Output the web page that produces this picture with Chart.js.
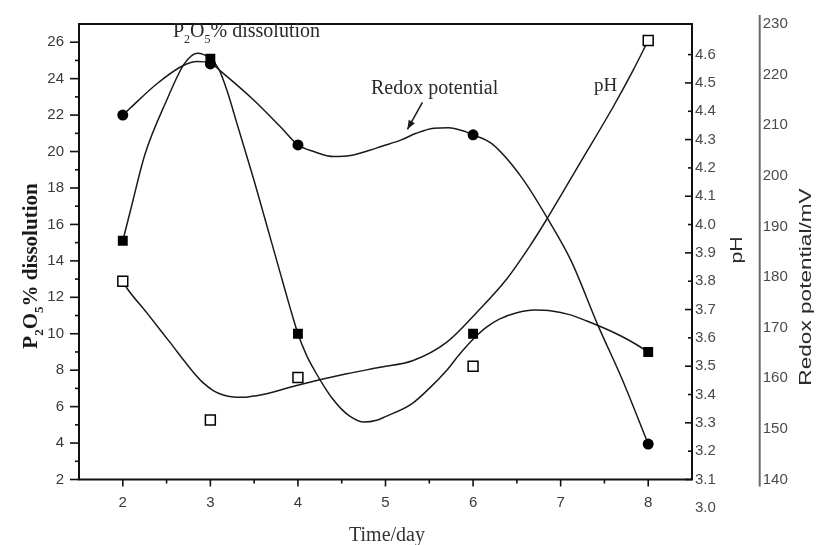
<!DOCTYPE html>
<html>
<head>
<meta charset="utf-8">
<script src="https://cdn.jsdelivr.net/npm/chart.js@4.4.1/dist/chart.umd.min.js"></script>
<style>
  html, body { margin: 0; padding: 0; background: #fff; }
  #c { display: block; }
</style>
</head>
<body>
<canvas id="c" width="818" height="545"></canvas>
<script>
// ---- data ----
const days = [2, 3, 4, 6, 8];
const p2o5Values = [15.1, 25.1, 10.0, 10.0, 9.0];      // P2O5 % dissolution (left axis)
const pHValues = [3.80, 3.31, 3.46, 3.50, 4.65];        // pH (first right axis)
const redoxValues = [212.0, 222.1, 206.1, 208.1, 147.0]; // redox potential, mV

// fitted curves as drawn in the reference
const p2o5FitDays = [2, 2.1, 2.25, 2.5, 2.7, 2.85, 3.0, 3.1, 3.2, 3.3, 3.4, 3.5, 3.6, 3.7, 3.8, 3.9, 4.0, 4.1, 4.2, 4.3, 4.4, 4.5, 4.6, 4.75, 4.9, 5.0, 5.3, 5.5, 5.7, 5.85, 6.0, 6.15, 6.3, 6.5, 6.7, 6.9, 7.1, 7.3, 7.5, 7.7, 7.85, 8.0];
const p2o5FitValues = [15.1, 17.0, 19.8, 22.8, 24.8, 25.4, 25.1, 24.5, 23.2, 21.6, 20.0, 18.4, 16.7, 15.0, 13.3, 11.6, 10.0, 8.8, 7.9, 7.1, 6.4, 5.85, 5.45, 5.15, 5.25, 5.45, 6.15, 7.0, 8.0, 8.9, 9.7, 10.35, 10.8, 11.15, 11.3, 11.25, 11.05, 10.7, 10.3, 9.85, 9.45, 9.0];

const redoxFitDays = [2, 2.08, 2.39, 2.69, 2.85, 3.0, 3.11, 3.5, 3.8, 4.0, 4.18, 4.41, 4.6, 4.83, 4.95, 5.18, 5.35, 5.55, 5.72, 5.9, 6.0, 6.21, 6.55, 6.86, 7.12, 7.43, 7.7, 8.0];
const redoxFitValues = [212.0, 213.3, 218.2, 221.8, 222.6, 222.3, 220.8, 214.9, 209.7, 206.1, 204.8, 203.8, 204.0, 205.1, 205.8, 207.1, 208.4, 209.4, 209.5, 208.8, 208.1, 206.4, 199.8, 191.3, 183.2, 170.3, 159.9, 147.0];

const pHFitDays = [2, 2.044, 2.273, 2.539, 2.805, 2.919, 3.033, 3.147, 3.261, 3.375, 3.528, 3.642, 3.985, 4.556, 4.936, 5.316, 5.697, 6.039, 6.382, 6.648, 6.838, 7.219, 7.599, 7.827, 8.0];
const pHFitValues = [3.800, 3.777, 3.689, 3.584, 3.479, 3.441, 3.414, 3.398, 3.391, 3.390, 3.396, 3.403, 3.432, 3.473, 3.496, 3.520, 3.584, 3.689, 3.807, 3.924, 4.017, 4.216, 4.415, 4.544, 4.650];

// tick labels
const xTicks = [2, 3, 4, 5, 6, 7, 8];
const xMinorTicks = [2.5, 3.5, 4.5, 5.5, 6.5, 7.5];
const leftTicks = [2, 4, 6, 8, 10, 12, 14, 16, 18, 20, 22, 24, 26];
const leftMinorTicks = [3, 5, 7, 9, 11, 13, 15, 17, 19, 21, 23, 25];
const pHTicks = [3.0, 3.1, 3.2, 3.3, 3.4, 3.5, 3.6, 3.7, 3.8, 3.9, 4.0, 4.1, 4.2, 4.3, 4.4, 4.5, 4.6];
const redoxTicks = [140, 150, 160, 170, 180, 190, 200, 210, 220, 230];

const pts = (xs, ys) => xs.map((x, i) => ({ x: x, y: ys[i] }));

const SANS = 'Liberation Sans, Arial, sans-serif';
const SERIF = 'Liberation Serif, Times New Roman, serif';
const tickFont = { family: SANS, size: 15 };
const tickColor = '#3a3a3a';
const curveColor = '#1a1a1a';

const overlay = {
  id: 'overlay',
  afterDraw(chart) {
    const { ctx, chartArea: a, scales } = chart;
    const sx = scales.x, sy = scales.y, sp = scales.yPH, sr = scales.yRedox;
    const line = (x1, y1, x2, y2) => { ctx.beginPath(); ctx.moveTo(x1, y1); ctx.lineTo(x2, y2); ctx.stroke(); };
    ctx.save();
    // frame
    ctx.strokeStyle = '#111';
    ctx.lineWidth = 2;
    ctx.strokeRect(a.left, a.top, a.right - a.left, a.bottom - a.top);
    // tick marks
    ctx.lineWidth = 1.6;
    leftTicks.forEach(v => { const y = sy.getPixelForValue(v); line(a.left - 9, y, a.left, y); });
    leftMinorTicks.forEach(v => { const y = sy.getPixelForValue(v); line(a.left - 4, y, a.left, y); });
    xTicks.forEach(v => { const x = sx.getPixelForValue(v); line(x, a.bottom, x, a.bottom + 7); });
    xMinorTicks.forEach(v => { const x = sx.getPixelForValue(v); line(x, a.bottom, x, a.bottom + 4); });
    pHTicks.forEach(v => {
      if (v < sp.min || v > sp.max) return;
      const y = sp.getPixelForValue(v);
      const len = (Math.round(v * 10) % 2 === 1) ? 7 : 4;
      line(a.right - len, y, a.right, y);
    });
    // redox axis line
    ctx.strokeStyle = '#6a6a6a';
    ctx.lineWidth = 2;
    line(sr.left, a.top - 9, sr.left, a.bottom + 7);

    // left axis title with subscripts
    const parts = [
      { t: 'P', sub: false }, { t: '2', sub: true }, { t: 'O', sub: false },
      { t: '5', sub: true }, { t: '% dissolution', sub: false }
    ];
    const drawParts = (cx, cy, rot, size, weight, color) => {
      ctx.save();
      ctx.translate(cx, cy);
      ctx.rotate(rot);
      ctx.fillStyle = color;
      ctx.textBaseline = 'alphabetic';
      ctx.textAlign = 'left';
      const fMain = weight + ' ' + size + 'px ' + SERIF;
      const fSub = weight + ' ' + Math.round(size * 0.6) + 'px ' + SERIF;
      let total = 0;
      parts.forEach(p => { ctx.font = p.sub ? fSub : fMain; total += ctx.measureText(p.t).width; });
      let x = -total / 2;
      parts.forEach(p => {
        ctx.font = p.sub ? fSub : fMain;
        ctx.fillText(p.t, x, p.sub ? size * 0.28 : 0);
        x += ctx.measureText(p.t).width;
      });
      ctx.restore();
      return total;
    };
    drawParts(37, 266, -Math.PI / 2, 21, 'bold', '#1a1a1a');

    // annotation at top: P2O5% dissolution
    ctx.save();
    ctx.fillStyle = '#2a2a2a';
    ctx.textBaseline = 'alphabetic';
    ctx.textAlign = 'left';
    {
      const size = 20;
      let x = 173;
      parts.forEach(p => {
        ctx.font = 'normal ' + (p.sub ? Math.round(size * 0.6) : size) + 'px ' + SERIF;
        ctx.fillText(p.t, x, p.sub ? 37 + size * 0.28 : 37);
        x += ctx.measureText(p.t).width;
      });
    }
    ctx.font = '20px ' + SERIF;
    ctx.fillText('Redox potential', 371, 94);
    ctx.font = '19px ' + SERIF;
    ctx.fillText('pH', 594, 91);
    ctx.restore();

    // arrow to redox curve
    const tipX = sx.getPixelForValue(5.25), tipY = sr.getPixelForValue(207.8) - 7;
    const tailX = tipX + 15, tailY = tipY - 27;
    ctx.strokeStyle = '#1a1a1a';
    ctx.fillStyle = '#1a1a1a';
    ctx.lineWidth = 1.5;
    line(tailX, tailY, tipX, tipY);
    {
      const ang = Math.atan2(tipY - tailY, tipX - tailX);
      const L = 9, W = 3.5;
      ctx.beginPath();
      ctx.moveTo(tipX, tipY);
      ctx.lineTo(tipX - L * Math.cos(ang) + W * Math.sin(ang), tipY - L * Math.sin(ang) - W * Math.cos(ang));
      ctx.lineTo(tipX - L * Math.cos(ang) - W * Math.sin(ang), tipY - L * Math.sin(ang) + W * Math.cos(ang));
      ctx.closePath();
      ctx.fill();
    }

    // x title
    ctx.fillStyle = '#333';
    ctx.font = '20px ' + SERIF;
    ctx.textAlign = 'center';
    ctx.textBaseline = 'middle';
    ctx.fillText('Time/day', 387, 536);

    // right titles (rotated, reading bottom to top)
    const rotText = (txt, cx, cy, size, stretch) => {
      ctx.save();
      ctx.translate(cx, cy);
      ctx.rotate(-Math.PI / 2);
      ctx.scale(stretch, 1);
      ctx.font = size + 'px ' + SANS;
      ctx.fillStyle = '#2a2a2a';
      ctx.textAlign = 'center';
      ctx.textBaseline = 'middle';
      ctx.fillText(txt, 0, 0);
      ctx.restore();
    };
    rotText('pH', 737, 250, 17, 1.25);
    rotText('Redox potential/mV', 806, 287, 17, 1.33);
    ctx.restore();
  }
};

new Chart(document.getElementById('c'), {
  type: 'scatter',
  data: {
    datasets: [
      { data: pts(days, p2o5Values), xAxisID: 'x', yAxisID: 'y', showLine: false,
        pointStyle: 'rect', pointRadius: 7, backgroundColor: '#000', borderColor: '#000', borderWidth: 0 },
      { data: pts(days, redoxValues), xAxisID: 'x', yAxisID: 'yRedox', showLine: false,
        pointStyle: 'circle', pointRadius: 5.5, backgroundColor: '#000', borderColor: '#000', borderWidth: 0 },
      { data: pts(days, pHValues), xAxisID: 'x', yAxisID: 'yPH', showLine: false,
        pointStyle: 'rect', pointRadius: 7, backgroundColor: '#fff', borderColor: '#000', borderWidth: 1.5 },
      { data: pts(p2o5FitDays, p2o5FitValues), xAxisID: 'x', yAxisID: 'y', showLine: true,
        pointRadius: 0, borderColor: curveColor, borderWidth: 1.5, cubicInterpolationMode: 'monotone', fill: false },
      { data: pts(redoxFitDays, redoxFitValues), xAxisID: 'x', yAxisID: 'yRedox', showLine: true,
        pointRadius: 0, borderColor: curveColor, borderWidth: 1.5, cubicInterpolationMode: 'monotone', fill: false },
      { data: pts(pHFitDays, pHFitValues), xAxisID: 'x', yAxisID: 'yPH', showLine: true,
        pointRadius: 0, borderColor: curveColor, borderWidth: 1.5, cubicInterpolationMode: 'monotone', fill: false }
    ]
  },
  options: {
    responsive: false,
    animation: false,
    events: [],
    layout: { padding: { left: 0, right: 0, top: 21.7, bottom: 0 } },
    plugins: { legend: { display: false }, tooltip: { enabled: false } },
    scales: {
      x: {
        type: 'linear', position: 'bottom', min: 1.5, max: 8.5,
        afterBuildTicks: s => { s.ticks = xTicks.map(v => ({ value: v })); },
        afterFit: s => { s.height = 65.5; },
        grid: { display: false, drawTicks: false }, border: { display: false },
        ticks: { font: tickFont, color: tickColor, padding: 14, autoSkip: false, maxRotation: 0 }
      },
      y: {
        type: 'linear', position: 'left', min: 2, max: 27,
        afterBuildTicks: s => { s.ticks = leftTicks.map(v => ({ value: v })); },
        afterFit: s => { s.width = 79; },
        grid: { display: false, drawTicks: false }, border: { display: false },
        ticks: { font: tickFont, color: tickColor, padding: 15, autoSkip: false }
      },
      yPH: {
        type: 'linear', position: 'right', weight: 0, min: 3.1, max: 4.708,
        afterBuildTicks: s => { s.ticks = pHTicks.map(v => ({ value: v })); },
        afterFit: s => { s.width = 67.7; },
        grid: { display: false, drawTicks: false }, border: { display: false },
        ticks: { font: { family: SANS, size: 15 }, color: '#4a4a4a', padding: 3, autoSkip: false,
                 callback: v => Number(v).toFixed(1) }
      },
      yRedox: {
        type: 'linear', position: 'right', weight: 1, min: 140, max: 230,
        afterBuildTicks: s => { s.ticks = redoxTicks.map(v => ({ value: v })); },
        afterFit: s => { s.width = 58.3; },
        grid: { display: false, drawTicks: false }, border: { display: false },
        ticks: { font: { family: SANS, size: 15 }, color: '#4a4a4a', padding: 3, autoSkip: false,
                 callback: v => String(v) }
      }
    }
  },
  plugins: [overlay]
});
</script>
</body>
</html>
